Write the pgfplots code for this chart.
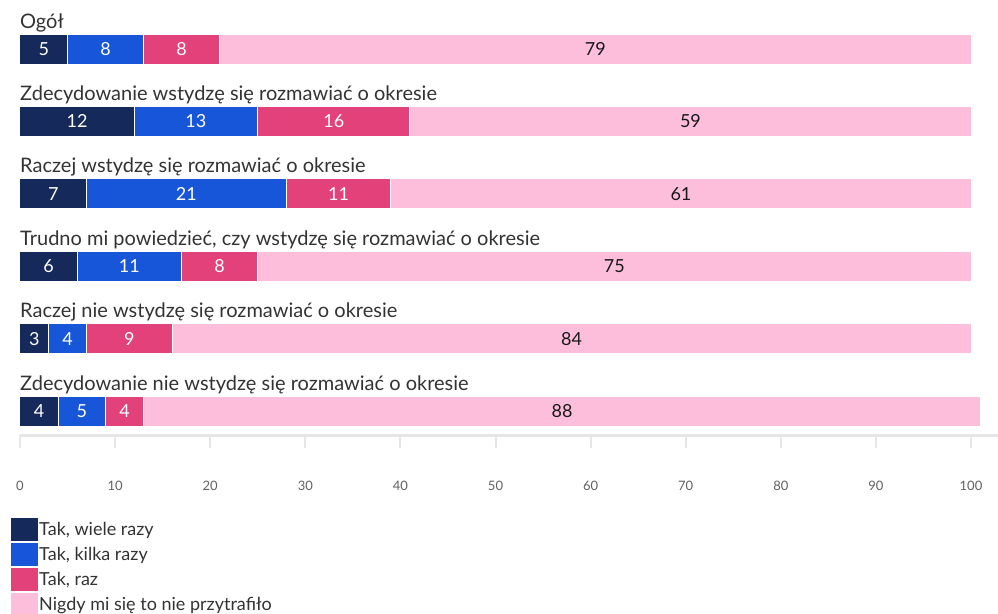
\documentclass[border=0pt]{standalone}
\usepackage{pgfplots}
\usepackage{pgfplotstable}
\pgfplotsset{compat=1.18}
\usepackage{fontspec}
\setmainfont{Lato}
\definecolor{c1}{HTML}{15295A}
\definecolor{c2}{HTML}{1756D9}
\definecolor{c3}{HTML}{E2417A}
\definecolor{c4}{HTML}{FDBEDC}
\definecolor{txt}{HTML}{333333}
\definecolor{axl}{HTML}{E6E6E6}
\pgfplotstableread{
y v1 v2 v3 v4
5 5 8 8 79
4 12 13 16 59
3 7 21 11 61
2 6 11 8 75
1 3 4 9 84
0 4 5 4 88
}\data
\begin{document}
\begin{tikzpicture}
\useasboundingbox (0pt,0pt) rectangle (998pt,613pt);
\begin{axis}[
  at={(20pt,178pt)}, anchor=south west, scale only axis,
  width=978pt, height=435pt,
  xmin=0, xmax=102.84, ymin=-0.331, ymax=5.677,
  xbar stacked, bar width=30pt,
  clip=false,
  /pgf/number format/assume math mode=true,
  axis x line*=bottom, axis y line=none,
  x axis line style={draw=axl, line width=3pt, -},
  xtick={0,10,...,100}, xtick pos=lower, tick align=outside,
  major tick length=13pt,
  every tick/.style={draw=axl, line width=2pt},
  xticklabel style={font=\fontsize{13}{15}\selectfont, text=black!62, yshift=-30pt},
  ytick=\empty,
  every node near coord/.style={font=\fontsize{18}{20}\selectfont, anchor=center},
  legend style={at={(-0.0102,-0.188)}, anchor=north west, draw=none, fill=none,
    inner sep=0pt, row sep=0pt, column sep=0pt,
    font=\fontsize{18}{20}\selectfont, text=txt,
    nodes={inner sep=0pt, outer sep=0pt}},
  legend cell align=left,
  legend image code/.code={\fill[#1] (0pt,-11.5pt) rectangle (24pt,11.5pt); \path (0pt,-12pt) rectangle (28pt,12pt);},
]
\addplot[fill=c1, draw=white, line width=1pt, nodes near coords={\textcolor{white}{\pgfmathprintnumber{\pgfplotspointmeta}}}, point meta=\thisrow{v1}] table[x=v1, y=y] {\data};
\addlegendentry{Tak, wiele razy}
\addplot[fill=c2, draw=white, line width=1pt, nodes near coords={\textcolor{white}{\pgfmathprintnumber{\pgfplotspointmeta}}}, point meta=\thisrow{v2}] table[x=v2, y=y] {\data};
\addlegendentry{Tak, kilka razy}
\addplot[fill=c3, draw=white, line width=1pt, nodes near coords={\textcolor{white}{\pgfmathprintnumber{\pgfplotspointmeta}}}, point meta=\thisrow{v3}] table[x=v3, y=y] {\data};
\addlegendentry{Tak, raz}
\addplot[fill=c4, draw=white, line width=1pt, nodes near coords={\textcolor{black!90}{\pgfmathprintnumber{\pgfplotspointmeta}}}, point meta=\thisrow{v4}] table[x=v4, y=y] {\data};
\addlegendentry{Nigdy mi się to nie przytrafiło}
\foreach \yy/\lab in {5/Ogół, 4/Zdecydowanie wstydzę się rozmawiać o okresie, 3/Raczej wstydzę się rozmawiać o okresie, 2/{Trudno mi powiedzieć, czy wstydzę się rozmawiać o okresie}, 1/Raczej nie wstydzę się rozmawiać o okresie, 0/Zdecydowanie nie wstydzę się rozmawiać o okresie}{
  \edef\tmp{\noexpand\node[anchor=base west, inner sep=0pt, text=txt, font=\noexpand\fontsize{20}{22}\noexpand\selectfont] at (axis cs:0,\yy) [yshift=21pt] {\unexpanded\expandafter{\lab}};}
  \tmp
}
\end{axis}
\end{tikzpicture}
\end{document}
